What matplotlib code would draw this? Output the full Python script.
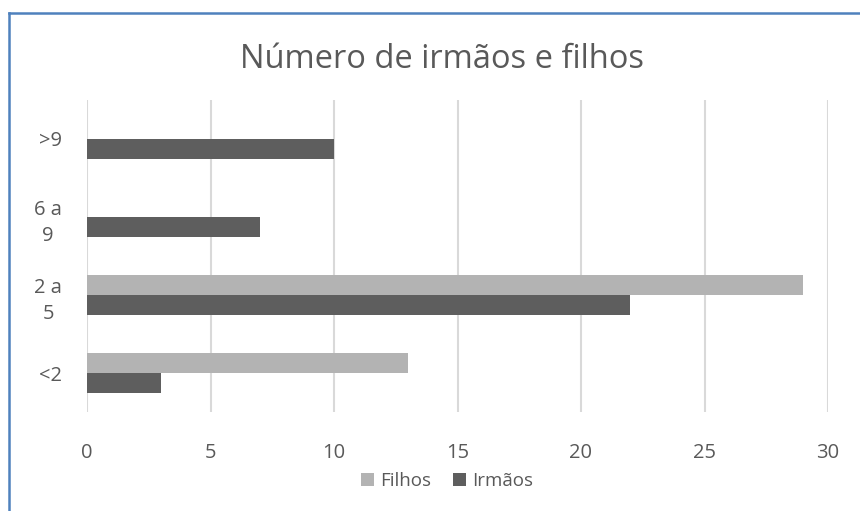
import matplotlib
matplotlib.use("Agg")
import matplotlib.pyplot as plt
from matplotlib.lines import Line2D
import numpy as np

categories = ["<2", "2 a\n5", "6 a\n9", ">9"]
filhos = [13, 29, 0, 0]
irmaos = [3, 22, 7, 10]
xticks = [0, 5, 10, 15, 20, 25, 30]

plt.rcParams['font.family'] = ['Open Sans', 'DejaVu Sans']
text_color = '#595959'
c_filhos = '#B3B3B3'
c_irmaos = '#5E5E5E'

W, H = 860, 511
fig = plt.figure(figsize=(W/100, H/100), dpi=100)
ax = fig.add_axes([87/W, (H-412)/H, (828-87)/W, (412-100)/H])

y = np.arange(len(categories))
h = 0.256
ax.barh(y + h/2, filhos, height=h, color=c_filhos, label='Filhos', zorder=3)
ax.barh(y - h/2, irmaos, height=h, color=c_irmaos, label='Irmãos', zorder=3)

ax.set_xlim(0, 30)
ax.set_ylim(-0.5, 3.5)
ax.set_xticks(xticks)
ax.set_xticklabels([str(t) for t in xticks])
ax.set_yticks(y)
ax.set_yticklabels(categories, multialignment='center', linespacing=1.45)
ax.tick_params(axis='both', length=0, labelsize=14.5, labelcolor=text_color)
ax.tick_params(axis='y', pad=18)
ax.tick_params(axis='x', pad=22)
for s in ax.spines.values():
    s.set_visible(False)
ax.grid(axis='x', color='#D9D9D9', linewidth=1.5, zorder=0)
ax.set_axisbelow(True)

fig.text(442/W, 1 - 59/H, "Número de irmãos e filhos", ha='center', va='center',
         fontsize=23.5, color=text_color)

leg = fig.legend(loc='center', bbox_to_anchor=(447/W, 1 - 481/H), ncol=2, frameon=False,
                 fontsize=13.5, handlelength=0.7, handleheight=0.7, handletextpad=0.3,
                 columnspacing=1.2, labelcolor=text_color)

# outer chart border (left and top visible)
fig.add_artist(Line2D([8.5/W, 8.5/W], [0, 1 - 13.5/H], transform=fig.transFigure,
                      color='#4F81BD', linewidth=1.8))
fig.add_artist(Line2D([8.5/W, 1], [1 - 13.5/H, 1 - 13.5/H], transform=fig.transFigure,
                      color='#4F81BD', linewidth=1.8))

fig.savefig("out.png", dpi=100)
